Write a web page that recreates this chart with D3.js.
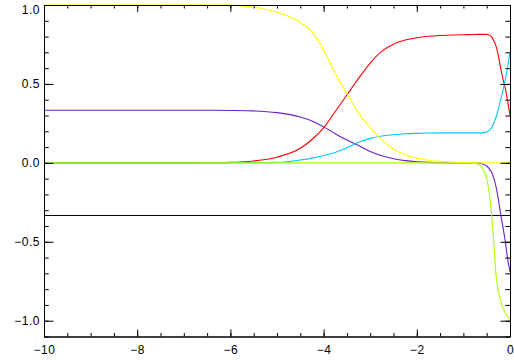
<!DOCTYPE html>
<html>
<head>
<meta charset="utf-8">
<script src="https://cdn.jsdelivr.net/npm/d3@7"></script>
<style>
  body { margin: 0; background: #fff; }
  .axis text { font-family: "Liberation Sans", Arial, sans-serif; font-size: 12px; letter-spacing: 0.5px; fill: #000; }
  .axis line, .axis path { stroke: #000; }
</style>
</head>
<body>
<script>
// sample positions along x (log scale)
var xs = [-10, -8, -7, -6.5, -6, -5.5, -5, -4.5, -4.25, -4, -3.75, -3.5, -3.25, -3, -2.75, -2.5, -2.25, -2,
          -1.75, -1.5, -1.25, -1, -0.8, -0.7, -0.6, -0.5, -0.45, -0.4, -0.35, -0.3, -0.25, -0.2, -0.15, -0.1, -0.05, 0];

var yellow = [1, 1, 1, 1, 0.999, 0.985, 0.955, 0.89, 0.83, 0.715, 0.565, 0.44, 0.315, 0.225, 0.145, 0.088, 0.052, 0.03,
              0.017, 0.01, 0.005, 0.003, 0.001, 0, 0, 0, 0, 0, 0, 0, 0, 0, 0, 0, 0, 0];
var red = [0, 0, 0, 0.001, 0.003, 0.012, 0.036, 0.092, 0.148, 0.222, 0.325, 0.43, 0.535, 0.632, 0.708, 0.752, 0.778, 0.793,
           0.802, 0.807, 0.81, 0.812, 0.813, 0.814, 0.814, 0.814, 0.81, 0.8, 0.775, 0.74, 0.68, 0.6, 0.53, 0.47, 0.39, 0.3];
var purple = [0.333, 0.333, 0.333, 0.333, 0.332, 0.329, 0.318, 0.29, 0.265, 0.228, 0.185, 0.145, 0.11, 0.072, 0.045, 0.026, 0.014, 0.007,
              0.003, 0.001, 0, 0, 0, 0, -0.005, -0.02, -0.035, -0.057, -0.095, -0.15, -0.23, -0.325, -0.41, -0.5, -0.61, -0.69];
var cyan = [0, 0, 0, 0, 0, 0.001, 0.003, 0.018, 0.03, 0.047, 0.066, 0.095, 0.13, 0.155, 0.17, 0.178, 0.184, 0.187,
            0.189, 0.19, 0.19, 0.19, 0.19, 0.19, 0.19, 0.195, 0.205, 0.22, 0.25, 0.29, 0.34, 0.4, 0.46, 0.53, 0.61, 0.7];
var lime = [0, 0, 0, 0, 0, 0, 0, 0, 0, 0, 0, 0, 0, 0, 0, 0, 0, 0,
            0, 0, 0, 0, -0.002, -0.008, -0.03, -0.1, -0.18, -0.31, -0.5, -0.71, -0.81, -0.875, -0.92, -0.95, -0.975, -0.99];
var refLevel = -1 / 3;

var series = [
  {name: "purple", color: "#6a1fd0", values: purple},
  {name: "red", color: "#ff0000", values: red},
  {name: "cyan", color: "#00c8ff", values: cyan},
  {name: "lime", color: "#aaff00", values: lime},
  {name: "yellow", color: "#ffff00", values: yellow}
];

var xTicks = [-10, -8, -6, -4, -2, 0];
var yTicks = [-1, -0.5, 0, 0.5, 1];

var margin = {top: 5, right: 4, bottom: 23.5, left: 44},
    width = 514 - margin.left - margin.right,
    height = 360 - margin.top - margin.bottom;

var svg = d3.select("body").append("svg")
    .attr("width", 514)
    .attr("height", 360)
    .append("g")
    .attr("transform", "translate(" + margin.left + "," + margin.top + ")");

var x = d3.scaleLinear().domain([-10, 0]).range([0, width]);
var y = d3.scaleLinear().domain([-1.1, 1.0]).range([height, 0]);

var xMinor = d3.range(-10, 0.001, 0.5);
var yMinor = d3.range(-11, 10.001, 1).map(function(d) { return d / 10; });

// reference level
svg.append("line")
    .attr("x1", x(-10)).attr("x2", x(0))
    .attr("y1", y(refLevel)).attr("y2", y(refLevel))
    .attr("stroke", "#000")
    .attr("stroke-width", 1);

var line = d3.line()
    .x(function(d, i) { return x(xs[i]); })
    .y(function(d) { return y(d); })
    .curve(d3.curveMonotoneX);

svg.selectAll(".series")
    .data(series)
    .enter().append("path")
    .attr("class", "series")
    .attr("fill", "none")
    .attr("stroke", function(d) { return d.color; })
    .attr("stroke-width", 1.1)
    .attr("d", function(d) { return line(d.values); });

// minor ticks (all four sides, pointing inward)
svg.append("g").attr("class", "axis")
    .attr("transform", "translate(0," + height + ")")
    .call(d3.axisBottom(x).tickValues(xMinor).tickSizeInner(-3.5).tickSizeOuter(0).tickFormat(""));
svg.append("g").attr("class", "axis")
    .call(d3.axisTop(x).tickValues(xMinor).tickSizeInner(-3.5).tickSizeOuter(0).tickFormat(""));
svg.append("g").attr("class", "axis")
    .call(d3.axisLeft(y).tickValues(yMinor).tickSizeInner(-4.7).tickSizeOuter(0).tickFormat(""));
svg.append("g").attr("class", "axis")
    .attr("transform", "translate(" + width + ",0)")
    .call(d3.axisRight(y).tickValues(yMinor).tickSizeInner(-4.7).tickSizeOuter(0).tickFormat(""));

// major ticks with labels
svg.append("g").attr("class", "axis")
    .attr("transform", "translate(0," + height + ")")
    .call(d3.axisBottom(x).tickValues(xTicks).tickSizeInner(-7).tickSizeOuter(0).tickPadding(9).tickFormat(d3.format("d")));
svg.append("g").attr("class", "axis")
    .call(d3.axisTop(x).tickValues(xTicks).tickSizeInner(-7).tickSizeOuter(0).tickFormat(""));
var yAxisG = svg.append("g").attr("class", "axis")
    .call(d3.axisLeft(y).tickValues(yTicks).tickSizeInner(-9.5).tickSizeOuter(0).tickPadding(4).tickFormat(d3.format(".1f")));
svg.append("g").attr("class", "axis")
    .attr("transform", "translate(" + width + ",0)")
    .call(d3.axisRight(y).tickValues(yTicks).tickSizeInner(-9.5).tickSizeOuter(0).tickFormat(""));

// top label sits a little lower so it stays inside the page
yAxisG.selectAll(".tick text").filter(function(d) { return d === 1; }).attr("dy", "0.71em");
</script>
</body>
</html>
